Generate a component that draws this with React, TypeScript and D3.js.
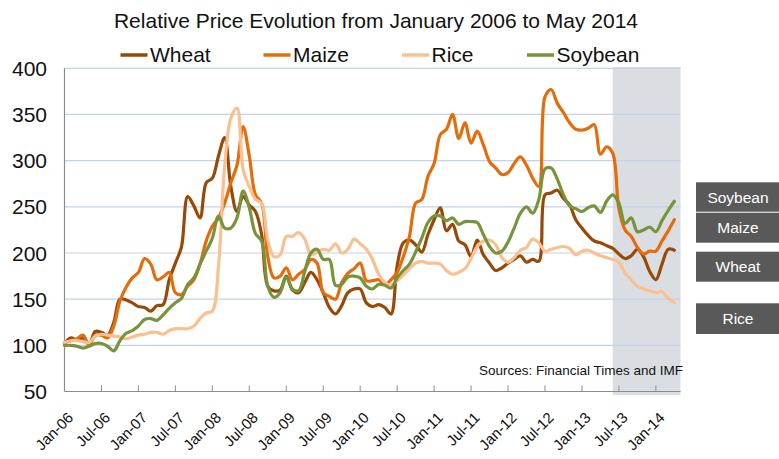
import React from "react";
import * as d3 from "d3";

// ---------------- data (monthly, Jan-06 .. Apr-14) ----------------
const seriesNames = ["Wheat", "Maize", "Rice", "Soybean"];
const seriesColors = ["#984807", "#E46C0A", "#FAC090", "#77933C"];

const wheat = [
  102, 108, 106, 108, 101, 115, 114, 111, 125, 150, 149, 146, 142, 141, 137, 143, 144, 171, 189, 207,
  261, 251, 238, 276, 281, 305, 325, 272, 245, 261, 252, 245, 220, 164, 159, 160, 175, 160, 157, 168,
  179, 171, 157, 141, 134, 143, 157, 161, 161, 146, 142, 144, 141, 134, 186, 211, 214, 209, 201, 220,
  236, 249, 224, 231, 213, 209, 196, 214, 198, 189, 181, 184, 189, 193, 197, 190, 193, 191, 263, 265,
  268, 259, 252, 236, 227, 219, 213, 211, 208, 205, 199, 194, 197, 204, 196, 180, 171, 188, 204, 203,
];
const maize = [
  103, 105, 107, 111, 100, 111, 111, 108, 121, 148, 163, 173, 179, 194, 188, 171, 174, 179, 157, 155,
  164, 171, 188, 213, 229, 238, 254, 276, 295, 337, 305, 263, 254, 196, 173, 175, 184, 171, 177, 182,
  193, 189, 157, 153, 150, 168, 178, 183, 189, 170, 170, 171, 166, 171, 179, 196, 218, 254, 258, 283,
  297, 328, 334, 350, 324, 341, 319, 332, 317, 299, 292, 285, 287, 297, 304, 295, 281, 272, 369, 377,
  362, 352, 341, 334, 333, 335, 339, 307, 315, 308, 248, 225, 218, 206, 199, 202, 202, 213, 224, 236,
];
const rice = [
  103, 105, 105, 104, 103, 110, 112, 111, 110, 109, 107, 109, 111, 112, 114, 114, 112, 116, 118, 118,
  118, 121, 129, 135, 137, 186, 294, 346, 357, 290, 272, 258, 254, 214, 196, 198, 218, 218, 222, 215,
  198, 201, 204, 203, 210, 200, 204, 215, 210, 204, 193, 177, 168, 165, 170, 176, 183, 189, 191, 189,
  189, 188, 181, 177, 179, 183, 194, 207, 213, 214, 209, 195, 190, 195, 203, 206, 215, 211, 202, 204,
  206, 207, 205, 198, 202, 203, 200, 197, 195, 193, 190, 178, 171, 164, 161, 159, 157, 158, 151, 146,
];
const soybean = [
  100, 100, 99, 97, 99, 102, 102, 99, 94, 105, 113, 116, 121, 128, 129, 127, 133, 140, 146, 151,
  166, 173, 188, 202, 216, 240, 227, 227, 238, 267, 249, 221, 213, 164, 152, 157, 174, 161, 159, 180,
  200, 204, 193, 193, 165, 166, 174, 175, 173, 164, 161, 166, 165, 162, 173, 181, 188, 201, 216, 233,
  240, 240, 235, 238, 231, 234, 234, 233, 220, 207, 200, 202, 212, 227, 243, 250, 243, 258, 291, 292,
  280, 263, 251, 248, 245, 249, 251, 244, 256, 263, 254, 232, 238, 223, 225, 228, 223, 235, 246, 256,
];
const seriesData = [wheat, maize, rice, soybean];

const tickLabels = [
  "Jan-06", "Jul-06", "Jan-07", "Jul-07", "Jan-08", "Jul-08", "Jan-09", "Jul-09", "Jan-10",
  "Jul-10", "Jan-11", "Jul-11", "Jan-12", "Jul-12", "Jan-13", "Jul-13", "Jan-14",
];
const monthsPerTick = 6;
const axisMonths = 100; // Jan-06 .. May-14 on the axis
const yTicks = [50, 100, 150, 200, 250, 300, 350, 400];
const highlightFrom = 89; // Jun-13
const sideLabels = ["Soybean", "Maize", "Wheat", "Rice"];

const title = "Relative Price Evolution from January 2006 to May 2014";
const source = "Sources: Financial Times and IMF";

// ---------------- layout ----------------
const W = 779;
const H = 459;
const FONT = "'Liberation Sans', Arial, Helvetica, sans-serif";

export default function App() {
  const x = d3.scaleLinear().domain([0, axisMonths]).range([64.5, 680.5]);
  const y = d3.scaleLinear().domain([50, 400]).range([391.5, 68.3]);

  const line = d3
    .line<number>()
    .x((_, i) => x(i))
    .y((d) => y(d))
    .curve(d3.curveCatmullRom.alpha(0.5));

  const legendX = [120.5, 263.5, 402, 527];
  const sideBoxes = [
    { y0: 182.3, y1: 211.7 },
    { y0: 212.7, y1: 242.7 },
    { y0: 251.7, y1: 281.7 },
    { y0: 303.3, y1: 334 },
  ];

  return (
    <svg
      width={W}
      height={H}
      viewBox={`0 0 ${W} ${H}`}
      style={{ position: "absolute", left: 0, top: 0, background: "#fff" }}
      fontFamily={FONT}
    >
      <rect x={0} y={0} width={W} height={H} fill="#fff" />

      {/* title */}
      <text x={376} y={28.3} textAnchor="middle" fontSize={21} fill="#111">
        {title}
      </text>

      {/* legend */}
      {seriesNames.map((name, k) => (
        <g key={name}>
          <line
            x1={legendX[k]}
            x2={legendX[k] + 27}
            y1={55}
            y2={55}
            stroke={seriesColors[k]}
            strokeWidth={3.5}
          />
          <text x={legendX[k] + 29.5} y={61.7} fontSize={21} fill="#111">
            {name}
          </text>
        </g>
      ))}

      {/* highlighted recent period */}
      <rect
        x={x(highlightFrom)}
        y={67}
        width={x(axisMonths) - x(highlightFrom)}
        height={395 - 67}
        fill="#DADEE3"
      />

      {/* gridlines */}
      {yTicks.slice(1).map((t) => (
        <line
          key={t}
          x1={x(0)}
          x2={x(axisMonths)}
          y1={y(t)}
          y2={y(t)}
          stroke="#C3D2E8"
          strokeWidth={1.2}
        />
      ))}

      {/* y axis */}
      <line x1={x(0)} x2={x(0)} y1={y(400)} y2={y(50)} stroke="#8C8C8C" strokeWidth={1.2} />
      {yTicks.map((t) => (
        <text key={t} x={47} y={y(t)} dy="0.36em" textAnchor="end" fontSize={21} fill="#111">
          {t}
        </text>
      ))}

      {/* x axis */}
      <line x1={x(0)} x2={x(axisMonths)} y1={y(50)} y2={y(50)} stroke="#8C8C8C" strokeWidth={1.2} />
      {tickLabels.map((lab, k) => {
        const tx = x(k * monthsPerTick);
        return (
          <g key={lab}>
            {k > 0 && (
              <line x1={tx} x2={tx} y1={y(50)} y2={y(50) - 6} stroke="#8C8C8C" strokeWidth={1} />
            )}
            <text
              transform={`translate(${tx + 6},${415}) rotate(-45)`}
              dy="0.35em"
              textAnchor="end"
              fontSize={15}
              fill="#111"
            >
              {lab}
            </text>
          </g>
        );
      })}

      {/* series */}
      {seriesData.map((vals, k) => (
        <path
          key={seriesNames[k]}
          d={line(vals) || ""}
          fill="none"
          stroke={seriesColors[k]}
          strokeWidth={3.2}
          strokeLinejoin="round"
          strokeLinecap="round"
        />
      ))}

      {/* source */}
      <text x={683} y={375} textAnchor="end" fontSize={13.5} fill="#111">
        {source}
      </text>

      {/* side labels */}
      {sideLabels.map((lab, k) => (
        <g key={lab}>
          <rect x={696} y={sideBoxes[k].y0} width={84} height={sideBoxes[k].y1 - sideBoxes[k].y0} fill="#595959" />
          <text
            x={738}
            y={(sideBoxes[k].y0 + sideBoxes[k].y1) / 2}
            dy="0.36em"
            textAnchor="middle"
            fontSize={15.5}
            fill="#fff"
          >
            {lab}
          </text>
        </g>
      ))}
    </svg>
  );
}
